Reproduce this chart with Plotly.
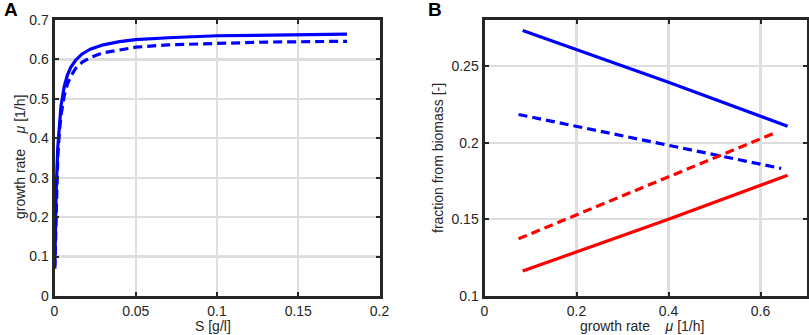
import plotly.graph_objects as go

# Panel A: growth rate vs substrate
S_vals = [0.0002, 0.001, 0.002, 0.003, 0.004, 0.006, 0.008, 0.01, 0.013, 0.017,
          0.022, 0.03, 0.04, 0.05, 0.07, 0.1, 0.13, 0.18]
mu_solid = [0.076, 0.262, 0.376, 0.441, 0.482, 0.532, 0.561, 0.580, 0.598, 0.614,
            0.626, 0.637, 0.645, 0.650, 0.655, 0.660, 0.662, 0.664]
mu_dashed = [0.069, 0.241, 0.352, 0.416, 0.458, 0.508, 0.538, 0.557, 0.577, 0.593,
             0.605, 0.617, 0.625, 0.631, 0.637, 0.641, 0.644, 0.646]

# Panel B: fraction from biomass vs growth rate
mu_b_solid = [0.083, 0.4, 0.659]
blue_solid = [0.2732, 0.2394, 0.2107]
red_solid = [0.1163, 0.150, 0.1788]
mu_b_dashed = [0.074, 0.4, 0.645]
blue_dashed = [0.2184, 0.1985, 0.1832]
mu_r_dashed = [0.074, 0.4, 0.633]
red_dashed = [0.1373, 0.1775, 0.2066]

xticksA = [0, 0.05, 0.1, 0.15, 0.2]
xtickA_text = ["0", "0.05", "0.1", "0.15", "0.2"]
yticksA = [0, 0.1, 0.2, 0.3, 0.4, 0.5, 0.6, 0.7]
yticksA_text = ["0", "0.1", "0.2", "0.3", "0.4", "0.5", "0.6", "0.7"]
xticksB = [0, 0.2, 0.4, 0.6]
xticksB_text = ["0", "0.2", "0.4", "0.6"]
yticksB = [0.1, 0.15, 0.2, 0.25]
yticksB_text = ["0.1", "0.15", "0.2", "0.25"]

BLUE = "#0000ff"
RED = "#ff0000"
LW = 3.2
DASH = "9px,5px"

fig = go.Figure()
fig.add_trace(go.Scatter(x=S_vals, y=mu_solid, mode="lines", line=dict(color=BLUE, width=LW),
                         xaxis="x", yaxis="y", showlegend=False))
fig.add_trace(go.Scatter(x=S_vals, y=mu_dashed, mode="lines", line=dict(color=BLUE, width=LW, dash=DASH),
                         xaxis="x", yaxis="y", showlegend=False))
fig.add_trace(go.Scatter(x=mu_b_solid, y=blue_solid, mode="lines", line=dict(color=BLUE, width=LW),
                         xaxis="x2", yaxis="y2", showlegend=False))
fig.add_trace(go.Scatter(x=mu_b_dashed, y=blue_dashed, mode="lines", line=dict(color=BLUE, width=LW, dash=DASH),
                         xaxis="x2", yaxis="y2", showlegend=False))
fig.add_trace(go.Scatter(x=mu_r_dashed, y=red_dashed, mode="lines", line=dict(color=RED, width=LW, dash=DASH),
                         xaxis="x2", yaxis="y2", showlegend=False))
fig.add_trace(go.Scatter(x=mu_b_solid, y=red_solid, mode="lines", line=dict(color=RED, width=LW),
                         xaxis="x2", yaxis="y2", showlegend=False))

W, H = 809, 335
axA_x = (54.5 / W, 379.5 / W)
axB_x = (484.5 / W, 806.5 / W)
ax_y = (1 - 296 / H, 1 - 20 / H)

FONT = "Liberation Sans, Arial, sans-serif"
common = dict(showline=True, linecolor="#262626", linewidth=3, mirror="ticks",
              ticks="inside", ticklen=4, tickwidth=2, tickcolor="#262626",
              showgrid=True, gridcolor="#dedede", gridwidth=2.2, zeroline=False,
              tickfont=dict(family=FONT, size=14, color="#262626"),
              tickmode="array", fixedrange=True, automargin=False)

fig.update_layout(
    width=W, height=H,
    margin=dict(l=0, r=0, t=0, b=0),
    paper_bgcolor="white", plot_bgcolor="white",
    xaxis=dict(domain=axA_x, range=[0, 0.2], tickvals=xticksA, ticktext=xtickA_text, anchor="y", **common),
    yaxis=dict(domain=ax_y, range=[0, 0.7], tickvals=yticksA, ticktext=yticksA_text, anchor="x", **common),
    xaxis2=dict(domain=axB_x, range=[0, 0.7], tickvals=xticksB, ticktext=xticksB_text, anchor="y2", **common),
    yaxis2=dict(domain=ax_y, range=[0.1, 0.28], tickvals=yticksB, ticktext=yticksB_text, anchor="x2", **common),
)

tfont = dict(family=FONT, size=14, color="#262626")
SP = "\u00a0" * 4
anns = [
    dict(text="<b>A</b>", x=2 / W, y=1 - 10 / H, xanchor="left", yanchor="middle",
         font=dict(family=FONT, size=19, color="black")),
    dict(text="<b>B</b>", x=426 / W, y=1 - 10 / H, xanchor="left", yanchor="middle",
         font=dict(family=FONT, size=19, color="black")),
    dict(text="S [g/l]", x=213 / W, y=1 - 326 / H, xanchor="center", yanchor="middle", font=tfont),
    dict(text="growth rate" + SP + "<i>μ</i> [1/h]", x=642 / W, y=1 - 326 / H, xanchor="center",
         yanchor="middle", font=tfont),
    dict(text="growth rate" + SP + "<i>μ</i> [1/h]", x=20 / W, y=1 - 157 / H, xanchor="center",
         yanchor="middle", textangle=-90, font=tfont),
    dict(text="fraction from biomass [-]", x=438 / W, y=1 - 158 / H, xanchor="center", yanchor="middle",
         textangle=-90, font=tfont),
]
for a in anns:
    a.update(xref="paper", yref="paper", showarrow=False)
fig.update_layout(annotations=anns)

fig.write_html("out.html", config={"displayModeBar": False, "staticPlot": True},
               post_script="document.body.style.margin='0';document.body.style.overflow='hidden';")
